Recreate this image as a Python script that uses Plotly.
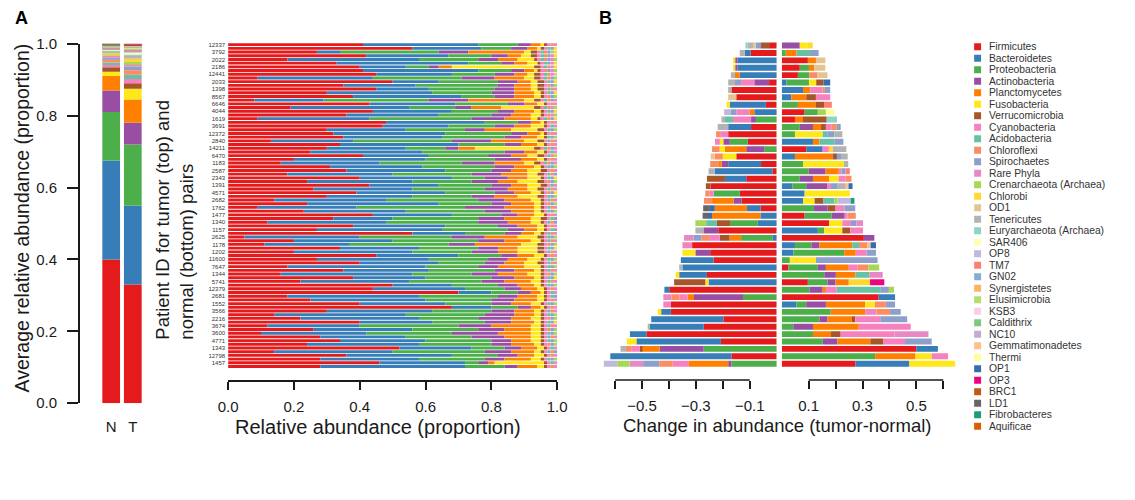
import plotly.graph_objects as go

W, H = 1135, 500
FONT = "Liberation Sans, Arial, Helvetica, sans-serif"
INK = "#1a1a1a"


def px(x):
    return x / W


def py(y):
    return 1 - y / H


# ---------------------------------------------------------------- phyla
PHYLA = ["Firmicutes", "Bacteroidetes", "Proteobacteria", "Actinobacteria",
         "Planctomycetes", "Fusobacteria", "Verrucomicrobia", "Cyanobacteria",
         "Acidobacteria", "Chloroflexi", "Spirochaetes", "Rare Phyla",
         "Crenarchaeota (Archaea)", "Chlorobi", "OD1", "Tenericutes",
         "Euryarchaeota (Archaea)", "SAR406", "OP8", "TM7", "GN02",
         "Synergistetes", "Elusimicrobia", "KSB3", "Caldithrix", "NC10",
         "Gemmatimonadetes", "Thermi", "OP1", "OP3", "BRC1", "LD1",
         "Fibrobacteres", "Aquificae"]
COLORS = ["#E41A1C", "#377EB8", "#4DAF4A", "#984EA3", "#FF7F00", "#FFE81A",
          "#A65628", "#F781BF", "#66C2A5", "#FC8D62", "#8DA0CB", "#E78AC3",
          "#A6D854", "#FFD92F", "#E5C494", "#B3B3B3", "#8DD3C7", "#FFFFB3",
          "#BEBADA", "#FB8072", "#80B1D3", "#FDB462", "#B3DE69", "#FCCDE5",
          "#7FC97F", "#BEAED4", "#FDC086", "#FFFF99", "#386CB0", "#F0027F",
          "#BF5B17", "#666666", "#1B9E77", "#D95F02"]
COLOR_OF = dict(zip(PHYLA, COLORS))

# ---------------------------------------------------------------- panel A (average)
GROUPS = ["N", "T"]
AVG_N = [0.400, 0.275, 0.135, 0.060, 0.040, 0.012, 0.013, 0.006, 0.007, 0.008,
         0.005, 0.006, 0.003, 0.003, 0.003, 0.004, 0.002, 0.002, 0.002, 0.002,
         0.002, 0.001, 0.001, 0.001, 0.001, 0.001, 0.001, 0.001, 0.0005, 0.0005,
         0.0005, 0.0005, 0.0005, 0.0005]
AVG_T = [0.330, 0.220, 0.170, 0.060, 0.065, 0.030, 0.015, 0.012, 0.012, 0.012,
         0.010, 0.008, 0.005, 0.009, 0.005, 0.005, 0.004, 0.003, 0.003, 0.003,
         0.003, 0.002, 0.002, 0.002, 0.002, 0.001, 0.0015, 0.001, 0.001, 0.001,
         0.001, 0.0005, 0.0005, 0.0005]

# ---------------------------------------------------------------- panel A (per patient, %)
PATIENTS = ["12337", "3792", "2022", "2186", "12441", "2033", "1398", "8567",
            "6646", "4044", "1619", "3691", "12372", "2840", "14211", "6470",
            "1183", "2587", "2343", "1391", "4571", "2682", "1762", "1477",
            "1340", "1157", "2625", "1178", "1202", "11600", "7647", "1344",
            "5741", "12379", "2681", "1552", "3566", "2216", "3674", "3600",
            "4771", "1343", "12798", "1457"]
# values listed as (tumor, normal) for each patient in order
REL_FIRMICUTES = [41, 56, 27, 42, 18, 33, 40, 41, 45, 9, 50, 35, 45, 30, 38, 8, 43, 19, 44, 36,
                  9, 48, 47, 30, 32, 35, 13, 34, 30, 25, 41, 20, 16, 31, 36, 18, 40, 24, 43, 26,
                  39, 30, 14, 24, 9, 23, 44, 32, 12, 38, 27, 56, 5, 20, 11, 34, 20, 45, 27, 40,
                  18, 35, 16, 38, 22, 50, 44, 70, 18, 25, 40, 68, 30, 14, 22, 40, 12, 26, 10, 28,
                  34, 24, 52, 14, 36, 28, 46, 28]
REL_BACTEROIDETES = [35, 21, 7, 25, 40, 40, 14, 35, 23, 35, 14, 22, 16, 32, 33, 21, 26, 36, 24, 28,
                     34, 30, 20, 24, 34, 30, 25, 36, 24, 34, 20, 40, 30, 28, 30, 32, 28, 32, 21, 30,
                     27, 26, 34, 40, 30, 31, 24, 18, 36, 28, 38, 16, 35, 30, 26, 24, 36, 25, 34, 24,
                     42, 26, 40, 22, 33, 18, 28, 10, 40, 35, 26, 12, 32, 40, 36, 22, 28, 30, 32, 26,
                     26, 34, 22, 36, 32, 30, 26, 44]
REL_PROTEOBACTERIA = [12, 9, 30, 13, 18, 10, 7, 10, 13, 27, 18, 25, 20, 18, 10, 32, 16, 14, 14, 16,
                      31, 10, 14, 18, 20, 19, 30, 14, 12, 25, 18, 21, 25, 22, 14, 24, 10, 18, 16, 22,
                      15, 18, 28, 16, 33, 24, 15, 26, 28, 16, 20, 12, 28, 26, 30, 18, 18, 13, 18, 14,
                      16, 20, 18, 20, 22, 14, 12, 8, 24, 20, 14, 8, 18, 24, 18, 16, 30, 20, 26, 20,
                      20, 22, 10, 28, 14, 20, 4, 12]
REL_ACTINOBACTERIA = [4, 5, 9, 5, 6, 4, 3, 4, 6, 10, 6, 5, 6, 7, 6, 12, 5, 5, 5, 6,
                      10, 4, 6, 6, 5, 5, 12, 5, 4, 6, 7, 8, 10, 6, 6, 9, 7, 8, 6, 7,
                      6, 7, 8, 6, 12, 8, 5, 8, 9, 6, 5, 5, 10, 8, 8, 6, 8, 5, 6, 6,
                      6, 6, 8, 7, 7, 6, 5, 4, 6, 7, 6, 4, 7, 9, 10, 8, 10, 8, 14, 10,
                      6, 6, 5, 8, 6, 6, 3, 4]
REL_PLANCTOMYCETES = [3, 3, 17, 4, 6, 4, 4, 3, 4, 9, 4, 5, 5, 6, 6, 17, 4, 9, 6, 6,
                      8, 3, 5, 8, 4, 5, 10, 5, 5, 4, 5, 5, 9, 6, 5, 8, 6, 6, 5, 6,
                      5, 7, 8, 7, 9, 7, 5, 8, 7, 6, 4, 4, 10, 8, 14, 6, 6, 5, 6, 6,
                      8, 6, 9, 6, 8, 5, 5, 3, 6, 7, 6, 3, 6, 6, 6, 7, 12, 8, 10, 8,
                      6, 7, 5, 7, 5, 8, 2, 6]
REL_FUSOBACTERIA = [1, 1, 2, 3, 5, 3, 25, 1, 2, 3, 2, 2, 2, 2, 2, 3, 2, 10, 2, 3,
                    2, 1, 4, 8, 1, 2, 4, 2, 18, 2, 3, 2, 3, 2, 4, 3, 4, 6, 4, 3,
                    3, 6, 3, 2, 2, 2, 3, 3, 3, 2, 2, 2, 6, 3, 5, 6, 6, 3, 4, 4,
                    5, 2, 4, 2, 3, 2, 2, 1, 2, 2, 3, 1, 2, 2, 3, 2, 3, 3, 3, 3,
                    3, 2, 2, 2, 3, 3, 15, 2]
REL_VERRUCOMICROBIA = [1, 1, 2, 2, 1, 1, 2, 1, 2, 2, 2, 2, 2, 1, 1, 2, 1, 2, 1, 1,
                       1, 1, 1, 2, 1, 1, 2, 1, 2, 1, 2, 1, 2, 1, 2, 2, 1, 2, 2, 2,
                       1, 2, 1, 1, 1, 1, 1, 2, 1, 1, 1, 1, 2, 1, 2, 2, 2, 1, 1, 2,
                       1, 1, 1, 1, 1, 1, 1, 1, 1, 1, 1, 1, 1, 1, 1, 1, 1, 1, 1, 1,
                       1, 1, 1, 1, 1, 1, 1, 1]
REL_CYANOBACTERIA = [1, 1, 1, 1, 1, 1, 1, 1, 1, 1, 1, 1, 1, 1, 1, 1, 1, 1, 1, 1,
                     1, 1, 1, 1, 1, 0, 1, 1, 1, 1, 1, 1, 1, 1, 1, 1, 1, 1, 1, 1,
                     1, 1, 1, 1, 1, 1, 1, 1, 1, 1, 1, 1, 1, 1, 1, 1, 1, 1, 1, 1,
                     1, 1, 1, 1, 1, 1, 1, 1, 1, 1, 1, 1, 1, 1, 1, 1, 1, 1, 1, 1,
                     1, 1, 1, 1, 1, 1, 1, 1]
REL_ACIDOBACTERIA = [0, 1, 1, 1, 1, 1, 1, 0, 1, 1, 1, 0, 1, 1, 0, 1, 0, 1, 1, 0,
                     1, 0, 1, 1, 0, 1, 1, 0, 1, 1, 1, 0, 1, 1, 0, 1, 1, 0, 1, 1,
                     0, 1, 1, 0, 1, 1, 0, 1, 1, 0, 1, 1, 1, 1, 0, 1, 1, 0, 1, 1,
                     1, 1, 0, 1, 1, 1, 0, 1, 1, 0, 1, 0, 1, 1, 0, 1, 1, 0, 1, 1,
                     1, 0, 1, 1, 0, 1, 1, 0]
REL_CHLOROFLEXI = [1, 0, 1, 1, 1, 0, 1, 1, 1, 1, 0, 1, 1, 0, 1, 1, 1, 1, 0, 1,
                   1, 1, 0, 0, 1, 0, 1, 1, 1, 0, 1, 1, 1, 0, 1, 1, 0, 1, 0, 1,
                   1, 0, 1, 1, 1, 0, 1, 0, 1, 1, 0, 1, 0, 1, 1, 0, 1, 1, 0, 1,
                   0, 1, 1, 0, 1, 0, 1, 0, 0, 1, 0, 1, 1, 0, 1, 0, 1, 1, 0, 1,
                   0, 1, 0, 1, 1, 0, 0, 1]
REL_SPIROCHAETES = [0, 1, 1, 1, 1, 1, 0, 1, 0, 1, 1, 1, 0, 1, 1, 1, 0, 0, 1, 0,
                    1, 0, 0, 1, 0, 1, 0, 0, 1, 0, 0, 0, 1, 1, 0, 1, 1, 1, 0, 0,
                    1, 1, 0, 1, 0, 1, 0, 1, 1, 0, 1, 0, 1, 0, 1, 1, 0, 0, 1, 0,
                    1, 0, 1, 1, 0, 1, 0, 0, 1, 0, 1, 0, 0, 1, 1, 1, 0, 1, 1, 0,
                    1, 1, 0, 1, 0, 1, 0, 0]
REL_RARE = [1, 0, 0, 1, 1, 1, 1, 1, 1, 0, 0, 0, 1, 0, 0, 1, 1, 1, 0, 1,
            0, 1, 1, 0, 1, 0, 1, 1, 1, 1, 0, 1, 1, 0, 1, 0, 0, 0, 1, 1,
            0, 0, 1, 0, 1, 0, 1, 0, 0, 1, 0, 1, 0, 1, 0, 0, 1, 1, 0, 1,
            0, 1, 0, 0, 1, 0, 1, 1, 0, 1, 0, 1, 1, 0, 0, 0, 1, 0, 0, 1,
            0, 0, 1, 0, 1, 0, 1, 1]
REL_CRENARCHAEOTA = [0, 0, 1, 0, 1, 0, 0, 1, 0, 1, 0, 1, 0, 0, 1, 0, 0, 1, 0, 1,
                     0, 0, 0, 1, 0, 1, 0, 0, 0, 0, 1, 0, 0, 1, 0, 0, 0, 1, 0, 0,
                     0, 1, 0, 1, 0, 1, 0, 0, 0, 0, 0, 0, 1, 0, 1, 0, 0, 0, 1, 0,
                     1, 0, 1, 0, 0, 1, 0, 0, 0, 0, 1, 0, 0, 1, 1, 0, 0, 1, 1, 0,
                     1, 1, 0, 0, 0, 1, 0, 0]
REL_CHLOROBI = [0, 1, 1, 1, 0, 1, 1, 0, 0, 0, 1, 0, 0, 1, 0, 0, 0, 0, 1, 0,
                1, 0, 0, 0, 0, 0, 0, 0, 0, 0, 0, 0, 0, 0, 0, 0, 1, 0, 0, 0,
                1, 0, 0, 0, 0, 0, 0, 0, 0, 0, 0, 0, 0, 0, 0, 1, 0, 0, 0, 0,
                0, 0, 0, 1, 0, 0, 0, 0, 0, 0, 0, 0, 0, 0, 0, 1, 0, 0, 0, 0,
                0, 0, 0, 0, 0, 0, 0, 0]
REL_OD1 = [0, 0, 0, 0, 0, 0, 0, 0, 1, 0, 0, 0, 0, 0, 0, 0, 0, 0, 0, 0,
           0, 0, 0, 0, 0, 0, 0, 0, 0, 0, 0, 0, 0, 0, 0, 0, 0, 0, 0, 0,
           0, 0, 0, 0, 0, 0, 0, 0, 0, 0, 0, 0, 0, 0, 0, 0, 0, 0, 0, 0,
           0, 0, 0, 0, 0, 0, 0, 0, 0, 0, 0, 0, 0, 0, 0, 0, 0, 0, 0, 0,
           0, 0, 0, 0, 0, 0, 0, 0]

REL = {"Firmicutes": REL_FIRMICUTES, "Bacteroidetes": REL_BACTEROIDETES,
       "Proteobacteria": REL_PROTEOBACTERIA, "Actinobacteria": REL_ACTINOBACTERIA,
       "Planctomycetes": REL_PLANCTOMYCETES, "Fusobacteria": REL_FUSOBACTERIA,
       "Verrucomicrobia": REL_VERRUCOMICROBIA, "Cyanobacteria": REL_CYANOBACTERIA,
       "Acidobacteria": REL_ACIDOBACTERIA, "Chloroflexi": REL_CHLOROFLEXI,
       "Spirochaetes": REL_SPIROCHAETES, "Rare Phyla": REL_RARE,
       "Crenarchaeota (Archaea)": REL_CRENARCHAEOTA, "Chlorobi": REL_CHLOROBI,
       "OD1": REL_OD1}

# ---------------------------------------------------------------- panel B (tumor - normal)
DIFF_FIRMICUTES = [-.028, -.097, .097, .067, .06, -.028, -.168, -.15, -.04, .085,
                   .049, -.095, -.18, -.107, .091, -.15, -.058, -.016, -.113, -.245,
                   -.137, -.13, -.06, .085, .176, -.217, .305, -.314, -.247, -.234,
                   .024, -.259, .097, -.399, .36, -.393, -.393, -.198, -.271, -.484,
                   -.207, .5, -.168, .274]
DIFF_BACTEROIDETES = [0, -.022, -.145, -.145, -.137, .018, .079, .036, -.134, -.083,
                      0, -.085, 0, .116, .061, .049, -.122, -.213, -.079, .04,
                      .085, .079, -.05, -.06, -.07, .134, -.016, .049, .043, -.122,
                      -.35, -.103, -.253, -.018, .061, .055, -.036, -.268, -.2, -.061,
                      -.314, .08, -.45, .2]
DIFF_PROTEOBACTERIA = [0, .015, 0, .034, .043, .083, 0, 0, .06, .049,
                       -.077, .067, .049, -.067, -.046, 0, .079, .1, .067, .051,
                       -.097, 0, .12, .1, -.103, .024, -.116, .061, .189, .03,
                       .11, .158, .073, .103, -.125, .036, .182, .14, .043, .116,
                       .152, -.271, .347, -.168]
DIFF_ACTINOBACTERIA = [.067, 0, -.009, -.009, 0, -.055, 0, 0, 0, 0,
                       -.018, .049, 0, -.024, -.067, 0, -.024, .063, .049, .079,
                       0, -.03, .05, .049, 0, -.055, .039, .03, -.055, 0,
                       .03, .043, .03, .049, -.182, .073, 0, .03, .073, 0,
                       .055, -.164, 0, -.012]
DIFF_PLANCTOMYCETES = [0, .04, .03, .02, -.018, 0, .027, .055, .067, -.018,
                       .03, .03, 0, .024, -.079, .14, -.013, .049, .06, 0,
                       0, -.08, -.12, -.18, 0, 0, -.043, .122, .043, 0,
                       .085, .073, .049, .012, -.024, .146, .128, .091, .17, .067,
                       .122, -.067, .15, -.146]
DIFF_FUSOBACTERIA = [.03, 0, -.008, -.008, 0, .027, 0, 0, -.012, 0,
                     0, 0, .103, -.013, -.02, -.05, .152, 0, .036, 0,
                     .168, .043, 0, 0, .049, .067, 0, 0, -.048, .097,
                     0, -.013, -.012, 0, 0, .036, -.013, 0, 0, 0,
                     -.036, 0, .06, .17]
DIFF_VERRUCOMICROBIA = [-.03, 0, 0, 0, 0, .027, 0, .036, .03, 0,
                        .088, .018, 0, 0, 0, .016, 0, 0, -.067, -.018,
                        0, .033, .03, 0, -.049, .03, -.036, 0, 0, 0,
                        0, 0, -.116, 0, 0, 0, 0, .012, 0, .036,
                        .049, -.006, 0, 0]
DIFF_CYANOBACTERIA = [0, 0, 0, 0, 0, -.049, .045, .053, 0, -.049,
                      -.067, .02, -.03, -.018, .023, 0, 0, .01, .025, .013,
                      -.016, 0, .033, .01, .032, .047, -.04, -.036, .04, 0,
                      .033, 0, 0, .04, -.03, -.028, .042, .093, .193, .2,
                      .08, -.03, .061, -.06]
DIFF_ACIDOBACTERIA = [0, .05, 0, 0, 0, 0, 0, 0, 0, 0,
                      -.03, 0, .017, .055, 0, 0, 0, 0, 0, 0,
                      0, .04, 0, 0, -.04, 0, 0, .025, 0, 0,
                      0, .051, 0, .164, 0, 0, 0, 0, 0, 0,
                      0, 0, 0, 0]
DIFF_CHLOROFLEXI = [0, 0, 0, 0, .03, 0, .009, 0, 0, 0,
                    0, .02, -.015, 0, -.028, -.03, -.03, 0, .022, 0,
                    -.015, -.03, 0, .031, 0, 0, -.028, .03, 0, 0,
                    .04, 0, 0, 0, -.03, .04, .05, 0, 0, 0,
                    0, -.022, 0, -.05]
DIFF_SPIROCHAETES = [-.02, .032, 0, 0, 0, -.023, .02, 0, 0, -.02,
                     0, .015, .026, .034, 0, .015, 0, .015, 0, .025,
                     0, 0, .04, 0, .02, 0, -.03, 0, .035, .229,
                     0, 0, 0, .03, 0, .035, .04, .1, 0, 0,
                     .099, 0, 0, -.06]
DIFF_RARE = [0, 0, 0, 0, 0, 0, 0, 0, 0, 0,
             0, 0, 0, 0, 0, 0, 0, 0, 0, 0,
             0, 0, 0, 0, .025, 0, -.035, 0, 0, 0,
             0, .05, 0, 0, -.03, 0, 0, 0, 0, .126,
             0, 0, 0, -.05]
DIFF_CRENARCHAEOTA = [0, 0, 0, 0, 0, 0, 0, 0, 0, .03,
                      0, 0, 0, 0, 0, 0, 0, 0, 0, 0,
                      0, .012, 0, 0, -.04, 0, 0, 0, 0, 0,
                      .04, 0, 0, .019, 0, 0, 0, 0, 0, 0,
                      0, 0, 0, -.046]
DIFF_CHLOROBI = [.018, 0, 0, 0, 0, 0, 0, 0, 0, 0,
                 0, 0, 0, 0, .015, 0, 0, 0, 0, 0,
                 0, 0, 0, 0, 0, 0, 0, 0, 0, 0,
                 0, 0, .079, 0, 0, 0, 0, 0, 0, 0,
                 0, 0, 0, 0]
DIFF_OD1 = [-.01, 0, .035, .041, .037, 0, 0, -.03, 0, 0,
            0, 0, 0, 0, 0, -.015, 0, 0, 0, 0,
            0, 0, 0, 0, 0, 0, 0, 0, 0, 0,
            0, 0, 0, 0, 0, 0, 0, 0, 0, 0,
            0, 0, 0, 0]
DIFF_TENERICUTES = [-.02, -.018, 0, 0, -.015, -.025, -.012, 0, 0, 0,
                    -.013, -.039, .03, 0, .05, .025, .016, -.024, 0, .03,
                    0, 0, 0, 0, 0, -.03, 0, 0, 0, 0,
                    -.012, 0, 0, 0, 0, 0, 0, 0, -.008, 0,
                    0, -.02, 0, 0]
DIFF_EURYARCHAEOTA = [-.008, 0, 0, 0, 0, 0, 0, 0, 0, 0,
                      .038, 0, 0, 0, 0, 0, 0, 0, 0, 0,
                      0, 0, 0, 0, 0, 0, 0, 0, 0, 0,
                      0, 0, 0, 0, 0, 0, 0, 0, 0, 0,
                      0, 0, 0, 0]
DIFF_OP8 = [0, 0, 0, 0, 0, 0, 0, 0, 0, -.025,
            0, 0, 0, 0, 0, 0, 0, 0, 0, 0,
            0, .049, 0, 0, 0, 0, 0, 0, 0, 0,
            0, 0, 0, 0, 0, 0, 0, 0, 0, 0,
            0, 0, 0, -.05]
DIFF_TM7 = [0, 0, 0, 0, 0, 0, 0, 0, .029, 0,
            0, 0, 0, 0, 0, 0, 0, .016, 0, 0,
            0, 0, 0, 0, 0, 0, 0, 0, 0, 0,
            0, 0, 0, 0, 0, 0, 0, 0, 0, 0,
            0, 0, 0, 0]
DIFF_GEMMATIMONADETES = [0, 0, 0, 0, 0, 0, 0, 0, 0, 0,
                         0, 0, 0, 0, 0, 0, 0, 0, 0, .01,
                         0, 0, 0, 0, 0, 0, 0, .013, 0, 0,
                         0, 0, 0, 0, 0, 0, 0, 0, 0, 0,
                         0, 0, 0, 0]
DIFF_THERMI = [0, 0, 0, 0, 0, 0, 0, 0, 0, .031,
               0, 0, 0, 0, 0, 0, 0, 0, 0, 0,
               0, 0, 0, 0, 0, 0, 0, 0, 0, 0,
               0, 0, 0, 0, 0, 0, 0, 0, 0, 0,
               0, 0, 0, 0]
DIFF_OP1 = [0, 0, 0, 0, 0, .025, 0, 0, 0, 0,
            0, 0, 0, 0, 0, 0, 0, 0, 0, .015,
            0, 0, -.018, -.015, 0, 0, 0, .02, 0, 0,
            0, 0, 0, 0, 0, 0, 0, 0, 0, 0,
            0, 0, 0, 0]
DIFF_OP3 = [0, 0, 0, 0, 0, 0, 0, 0, 0, 0,
            0, 0, 0, 0, 0, 0, 0, 0, 0, 0,
            0, 0, 0, 0, 0, 0, 0, 0, 0, 0,
            0, 0, .053, 0, 0, 0, 0, 0, 0, 0,
            0, 0, 0, 0]
DIFF_LD1 = [0, 0, 0, 0, 0, 0, 0, 0, 0, 0,
            0, 0, 0, 0, 0, 0, 0, 0, 0, 0,
            0, 0, -.025, -.02, 0, 0, 0, 0, 0, 0,
            0, 0, 0, 0, 0, 0, 0, 0, 0, 0,
            0, 0, 0, 0]
DIFF_FIBROBACTERES = [0, 0, 0, 0, 0, 0, 0, 0, 0, 0,
                      0, 0, 0, 0, 0, 0, 0, 0, 0, 0,
                      0, .014, 0, 0, 0, 0, 0, 0, 0, 0,
                      0, 0, 0, 0, 0, 0, 0, 0, 0, 0,
                      0, 0, 0, 0]

DIFF = {"Firmicutes": DIFF_FIRMICUTES, "Bacteroidetes": DIFF_BACTEROIDETES,
        "Proteobacteria": DIFF_PROTEOBACTERIA, "Actinobacteria": DIFF_ACTINOBACTERIA,
        "Planctomycetes": DIFF_PLANCTOMYCETES, "Fusobacteria": DIFF_FUSOBACTERIA,
        "Verrucomicrobia": DIFF_VERRUCOMICROBIA, "Cyanobacteria": DIFF_CYANOBACTERIA,
        "Acidobacteria": DIFF_ACIDOBACTERIA, "Chloroflexi": DIFF_CHLOROFLEXI,
        "Spirochaetes": DIFF_SPIROCHAETES, "Rare Phyla": DIFF_RARE,
        "Crenarchaeota (Archaea)": DIFF_CRENARCHAEOTA, "Chlorobi": DIFF_CHLOROBI,
        "OD1": DIFF_OD1, "Tenericutes": DIFF_TENERICUTES,
        "Euryarchaeota (Archaea)": DIFF_EURYARCHAEOTA, "OP8": DIFF_OP8, "TM7": DIFF_TM7,
        "Gemmatimonadetes": DIFF_GEMMATIMONADETES, "Thermi": DIFF_THERMI,
        "OP1": DIFF_OP1, "OP3": DIFF_OP3, "LD1": DIFF_LD1,
        "Fibrobacteres": DIFF_FIBROBACTERES}
DIFF_ROWS = list(range(1, len(DIFF_FIRMICUTES) + 1))

B_TICKS = [-0.6, -0.5, -0.4, -0.3, -0.2, -0.1, 0.1, 0.2, 0.3, 0.4, 0.5, 0.6]
B_TICKTEXT = ["", "\u22120.5", "", "\u22120.3", "", "\u22120.1", "0.1", "", "0.3", "", "0.5", ""]

# ---------------------------------------------------------------- figure
fig = go.Figure()

# Panel A: average stacked bars
for i, name in enumerate(PHYLA):
    fig.add_trace(go.Bar(x=GROUPS, y=[AVG_N[i], AVG_T[i]], marker_color=COLORS[i],
                         marker_line_width=0, width=0.82, xaxis="x", yaxis="y",
                         name=name, showlegend=False))

# Panel A: per-patient horizontal stacked bars
BAR_IDS = [f"{p} {s}" for p in PATIENTS for s in ("T", "N")]
for name, vals in REL.items():
    fig.add_trace(go.Bar(x=[v / 100 for v in vals], y=BAR_IDS, orientation="h",
                         marker_color=COLOR_OF[name], marker_line_width=0, width=0.78,
                         xaxis="x2", yaxis="y2", name=name, showlegend=False))

# Panel B: decreases (left half) and increases (right half)
for xa in ("x3", "x4"):
    for name, vals in DIFF.items():
        fig.add_trace(go.Bar(x=vals, y=DIFF_ROWS, orientation="h",
                             marker_color=COLOR_OF[name], marker_line_width=0, width=0.8,
                             xaxis=xa, yaxis="y3", name=name, showlegend=False))

# Legend (drawn as markers + labels)
fig.add_trace(go.Scatter(x=[0] * len(PHYLA), y=PHYLA, mode="markers",
                         marker=dict(symbol="square", size=7, color=COLORS, line_width=0),
                         xaxis="x5", yaxis="y5", showlegend=False, hoverinfo="skip"))

axis_common = dict(showgrid=False, zeroline=False, linecolor=INK, tickcolor=INK,
                   tickfont=dict(size=15, color=INK, family=FONT))

fig.update_layout(
    width=W, height=H, margin=dict(l=0, r=0, t=0, b=0),
    paper_bgcolor="white", plot_bgcolor="white",
    barmode="relative", showlegend=False,
    font=dict(family=FONT, color=INK),
    xaxis=dict(domain=[px(92), px(136)], anchor="free", position=py(421),
               type="category", categoryorder="array", categoryarray=GROUPS,
               showline=False, ticks="", **axis_common),
    yaxis=dict(domain=[py(408), py(36)], range=[0, 1], anchor="free", position=px(70),
               showline=True, linewidth=1.5, ticks="outside", ticklen=11, tickwidth=1.5,
               tickvals=[0, 0.2, 0.4, 0.6, 0.8, 1.0], tickformat=".1f",
               ticklabelstandoff=7, **axis_common),
    xaxis2=dict(domain=[px(222), px(557)], range=[0, 1], anchor="free", position=py(385),
                showline=True, linewidth=1.5, ticks="outside", ticklen=8, tickwidth=1.5,
                tickvals=[0, 0.2, 0.4, 0.6, 0.8, 1.0], tickformat=".1f",
                ticklabelstandoff=4, **axis_common),
    yaxis2=dict(domain=[py(372), py(35)], anchor="x2", type="category",
                categoryorder="array", categoryarray=BAR_IDS,
                range=[len(BAR_IDS) - 0.5, -0.5], showline=False, ticks="",
                tickvals=BAR_IDS[0::2], ticktext=PATIENTS, ticklabelstandoff=2,
                showgrid=False, zeroline=False,
                tickfont=dict(size=6, color="#333333", family=FONT)),
    xaxis3=dict(domain=[px(596), px(780.4)], range=[-0.673, 0], anchor="free",
                position=py(384), showline=False, ticks="outside", ticklen=8,
                tickwidth=1.5, tickvals=B_TICKS, ticktext=B_TICKTEXT,
                ticklabelstandoff=4, **axis_common),
    xaxis4=dict(domain=[px(785.6), px(970)], range=[0, 0.673], anchor="free",
                position=py(384), showline=False, ticks="outside", ticklen=8,
                tickwidth=1.5, tickvals=B_TICKS, ticktext=B_TICKTEXT,
                ticklabelstandoff=4, **axis_common),
    yaxis3=dict(domain=[py(371), py(34)], range=[len(DIFF_ROWS) + 0.5, 0.5],
                anchor="x3", visible=False),
    xaxis5=dict(domain=[px(981), px(989)], range=[-1, 1], visible=False, anchor="y5"),
    yaxis5=dict(domain=[py(438), py(33)], type="category", categoryorder="array",
                categoryarray=PHYLA, range=[len(PHYLA) - 0.5, -0.5], visible=False,
                anchor="x5"),
)

# B axis lines (two separate halves)
for xa, (a, b) in (("x3", (-0.6, -0.1)), ("x4", (0.1, 0.6))):
    fig.add_shape(type="line", xref=xa, yref="paper", x0=a, x1=b, y0=py(384), y1=py(384),
                  line=dict(color=INK, width=1.5))

annotations = [
    dict(text="<b>A</b>", x=px(3), y=py(9), xanchor="left", yanchor="middle",
         font=dict(size=18, color="black")),
    dict(text="<b>B</b>", x=px(598), y=py(9), xanchor="left", yanchor="middle",
         font=dict(size=18, color="black")),
    dict(text="Average relative abundance (proportion)", x=px(12), y=py(216),
         textangle=-90, font=dict(size=19.5, color=INK)),
    dict(text="Patient ID for tumor (top) and<br>normal (bottom) pairs", x=px(168),
         y=py(218), textangle=-90, align="left", font=dict(size=18.5, color=INK)),
    dict(text="Relative abundance (proportion)", x=px(375), y=py(433),
         font=dict(size=20, color=INK)),
    dict(text="Change in abundance (tumor-normal)", x=px(781), y=py(431),
         font=dict(size=18.5, color=INK)),
]
for name in PHYLA:
    annotations.append(dict(text=name, x=px(995), xref="paper", y=name, yref="y5",
                            xanchor="left", yanchor="middle", showarrow=False,
                            font=dict(size=10.3, color="#333333")))
for a in annotations:
    a.setdefault("xref", "paper")
    a.setdefault("yref", "paper")
    a.setdefault("showarrow", False)
    a.setdefault("xanchor", "center")
    a.setdefault("yanchor", "middle")
fig.update_layout(annotations=annotations)

fig.write_html("out.html", config={"displayModeBar": False})
